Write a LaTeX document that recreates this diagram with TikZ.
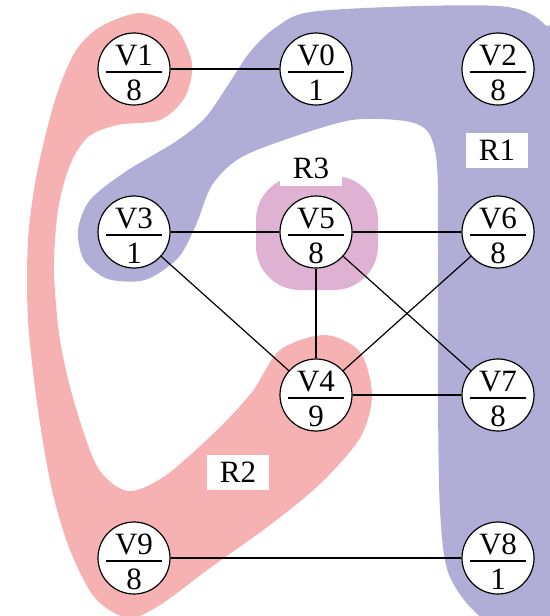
\documentclass[tikz,border=0pt]{standalone}
\usepackage{fontspec}
\setmainfont{Liberation Serif}
\usetikzlibrary{positioning}

\definecolor{regionone}{RGB}{176,174,214}
\definecolor{regiontwo}{RGB}{246,177,178}
\definecolor{regionthree}{RGB}{223,178,211}

\begin{document}
\begin{tikzpicture}[x=0.5pt,y=-0.5pt,node distance=81.5pt and 91pt,on grid,
    font=\fontsize{15.5}{18}\selectfont,
    vertex/.style 2 args={circle,draw,line width=0.6pt,fill=white,minimum size=36pt,inner sep=0pt,
      label={[yshift=6.75pt]center:#1},label={[yshift=-10.7pt]center:#2},
      path picture={\draw[line width=0.65pt] ([xshift=-14pt,yshift=-1.5pt]path picture bounding box.center) -- ++(28pt,0pt);}},
    regionlabel/.style={fill=white,minimum width=31pt,minimum height=17.5pt,inner sep=0pt}]
  \useasboundingbox (0,0) rectangle (550,616);
  % regions
  \begin{scope}
    \clip (0,0) rectangle (550,616);
    \fill[regionone] plot[smooth cycle] coordinates {
      (250,52) (275,28) (310,12) (420,6) (508,7) (545,25) (565,70) (565,600)
      (520,640) (475,612) (448,572) (440,510) (438,400) (438,250) (437,165)
      (428,132) (405,121) (352,120) (290,138) (240,158) (212,185) (196,225)
      (178,258) (145,280) (108,279) (84,260) (78,230) (90,200) (125,172)
      (175,142) (205,118) (228,85)};
    \fill[regiontwo] plot[smooth cycle] coordinates {
      (100,27) (140,13) (175,27) (192,63) (185,97) (160,120) (117,125) (88,137)
      (70,165) (58,210) (54,270) (60,340) (75,405) (98,468) (128,491) (165,476)
      (215,432) (252,392) (280,350) (325,335) (360,352) (372,395) (360,438)
      (320,484) (270,525) (210,568) (160,605) (128,618) (95,598) (70,550)
      (52,490) (38,410) (28,320) (28,240) (37,173) (55,100) (75,52)};
    \fill[regionthree,rounded corners=22pt] (256,176) rectangle (378,290);
  \end{scope}
  \node[regionlabel] (r1) at (497,150) {R1};
  \node[regionlabel] (r3) at (311,168) {R3};
  \node[regionlabel] (r2) at (238,472) {R2};
  % vertices
  \node[vertex={V1}{8}] (v1) at (134,69) {};
  \node[vertex={V0}{1}] (v0) [right=of v1] {};
  \node[vertex={V2}{8}] (v2) [right=of v0] {};
  \node[vertex={V3}{1}] (v3) [below=of v1] {};
  \node[vertex={V5}{8}] (v5) [right=of v3] {};
  \node[vertex={V6}{8}] (v6) [right=of v5] {};
  \node[vertex={V4}{9}] (v4) [below=of v5] {};
  \node[vertex={V7}{8}] (v7) [right=of v4] {};
  \node[vertex={V9}{8}] (v9) [below=of v3,yshift=-81.5pt] {};
  \node[vertex={V8}{1}] (v8) [below=of v7] {};
  \path[line width=0.6pt]
    (v1) edge (v0)
    (v3) edge (v5)
         edge (v4)
    (v5) edge (v6)
         edge (v4)
         edge (v7)
    (v6) edge (v4)
    (v4) edge (v7)
    (v9) edge (v8);
\end{tikzpicture}
\end{document}
